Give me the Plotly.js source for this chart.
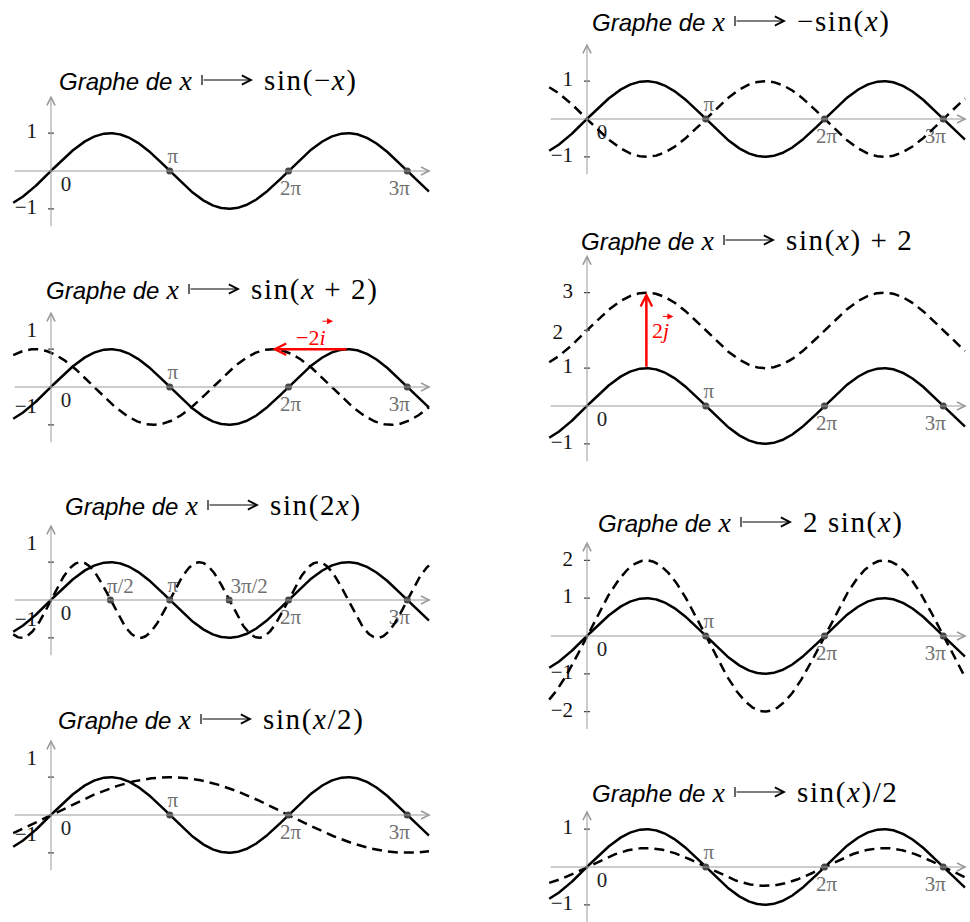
<!DOCTYPE html>
<html>
<head>
<meta charset="utf-8">
<script src="https://cdn.plot.ly/plotly-3.0.1.min.js"></script>
<style>
  html, body { margin: 0; padding: 0; background: #fff; }
  #chart { width: 970px; height: 922px; }
</style>
</head>
<body>
<div id="chart"></div>
<script>
const PI = Math.PI;

// ---- data -------------------------------------------------------------
// Eight panels: left column top to bottom, then right column top to bottom.
const panelFunction = [
  'sin(−<i>x</i>)', 'sin(<i>x</i> + 2)', 'sin(2<i>x</i>)', 'sin(<i>x</i>/2)',
  '−sin(<i>x</i>)', 'sin(<i>x</i>) + 2', '2 sin(<i>x</i>)', 'sin(<i>x</i>)/2'
];
// dashed curve of each panel: amp * sin(freq * x + phase) + lift (none in the first panel)
const dashAmp   = [null, 1, 1, 1,   -1, 1, 2, 0.5];
const dashFreq  = [null, 1, 2, 0.5,  1, 1, 1, 1];
const dashPhase = [null, 2, 0, 0,    0, 0, 0, 0];
const dashLift  = [null, 0, 0, 0,    0, 2, 0, 0];
// plotted interval of x
const xStart = -1, xEnd = 10;
// extent of the vertical axis in each panel
const yAxisLow  = [-1.5, -1.5, -1.5, -1.5, -1.5, -1.5, -2.5, -1.5];
const yAxisHigh = [2, 2, 2, 2, 2, 4, 2.5, 1.5];
// graduations on the vertical axis
const yTicks = [
  [1, -1], [1, -1], [1, -1], [1, -1],
  [1, -1], [3, 2, 1, -1], [2, 1, -2, -1], [1, -1]
];
// marked points on the horizontal axis
const markValues = [
  [PI, 2 * PI, 3 * PI], [PI, 2 * PI, 3 * PI],
  [PI / 2, PI, 3 * PI / 2, 2 * PI, 3 * PI], [PI, 2 * PI, 3 * PI],
  [PI, 2 * PI, 3 * PI], [PI, 2 * PI, 3 * PI], [PI, 2 * PI, 3 * PI], [PI, 2 * PI, 3 * PI]
];
const markLabels = [
  ['π', '2π', '3π'], ['π', '2π', '3π'],
  ['π/2', 'π', '3π/2', '2π', '3π'], ['π', '2π', '3π'],
  ['π', '2π', '3π'], ['π', '2π', '3π'], ['π', '2π', '3π'], ['π', '2π', '3π']
];
// translation vectors: panel, start point, end point, label
const vecPanel = [1, 5];
const vecFromX = [5 * PI / 2, PI / 2];
const vecFromY = [1, 1];
const vecToX   = [5 * PI / 2 - 2, PI / 2];
const vecToY   = [1, 3];
const vecLabel = ['−2<i>i</i>', '2<i>j</i>'];

// ---- geometry ---------------------------------------------------------
const W = 970, H = 922;
const unit = 37.8;                       // px per unit, same on both axes
const origin = [[51, 171], [51, 387], [51, 600], [51, 815],
                [587, 119], [587, 406], [587, 636], [587, 867]];
// title: left edge and vertical middle (px)
const titleLeft = [61, 48, 67, 60, 594, 583, 600, 594];
const titleMid  = [80, 289, 505, 719, 21, 240, 522, 792];
const yLabelShift = [0, -17, -17, -17, 0, 0, 0, 0];
// pixel offsets of the horizontal-axis labels relative to their point
const labelOffset = {
  '0': [15, 15], 'π': [3, -13], '2π': [2, 19], '3π': [-8, 19],
  'π/2': [10, -12], '3π/2': [20, -12]
};
// placement of the vector labels and of their arrow accents (px)
const vecLabelShift = [[1, 12], [4, 0]];
const vecAccentTip = [[23, 28], [27, 14]];

const serif = "'Liberation Serif', 'DejaVu Serif', serif";
const sans = "'Liberation Sans', 'DejaVu Sans', sans-serif";
const axisGrey = '#9a9a9a';
const labelGrey = '#707070';

const xs = [];
for (let k = 0; k <= 550; k++) xs.push(xStart + (xEnd - xStart) * k / 550);

const traces = [];
const annotations = [];
const shapes = [];
const layout = {
  width: W, height: H,
  margin: { l: 0, r: 0, t: 0, b: 0 },
  paper_bgcolor: '#fff', plot_bgcolor: 'rgba(0,0,0,0)',
  showlegend: false, hovermode: false
};

// "Graphe de x ⟼ f(x)": text, maps-to arrow drawn as a line with a bar, then the function
function addTitle(i) {
  const left = titleLeft[i];
  const yp = 1 - titleMid[i] / H;
  annotations.push({
    xref: 'paper', yref: 'paper', x: (left + 133) / W, y: yp,
    xanchor: 'right', yanchor: 'middle', showarrow: false,
    text: '<span style="font-family:' + sans + ';font-size:24px"><i>Graphe de</i></span> <i>x</i>',
    font: { family: serif, size: 28, color: '#000' }
  });
  annotations.push({
    xref: 'paper', yref: 'paper', axref: 'paper', ayref: 'paper',
    x: (left + 192) / W, y: yp, ax: (left + 141) / W, ay: yp,
    text: '', showarrow: true, arrowhead: 5, arrowsize: 1.5, arrowwidth: 1.2, arrowcolor: '#000'
  });
  shapes.push({
    type: 'line', xref: 'paper', yref: 'paper',
    x0: (left + 141) / W, x1: (left + 141) / W,
    y0: 1 - (titleMid[i] - 5) / H, y1: 1 - (titleMid[i] + 5) / H,
    line: { color: '#000', width: 1.2 }
  });
  annotations.push({
    xref: 'paper', yref: 'paper', x: (left + 201) / W, y: yp,
    xanchor: 'left', yanchor: 'middle', showarrow: false,
    text: '<span style="letter-spacing:1.6px">' + panelFunction[i] + '</span>',
    font: { family: serif, size: 29, color: '#000' }
  });
}

for (let i = 0; i < 8; i++) {
  const n = i === 0 ? '' : String(i + 1);
  const xa = 'x' + n, ya = 'y' + n;
  const [ox, oy] = origin[i];

  const xr = [-1.1, 10.1];
  const yLo = Math.max(yAxisLow[i] - 0.1, -(H - oy) / unit);
  const yHi = Math.min(yAxisHigh[i] + 0.1, oy / unit);
  const hidden = {
    showgrid: false, zeroline: false, showline: false, showticklabels: false,
    ticks: '', fixedrange: true
  };
  layout['xaxis' + n] = Object.assign({}, hidden, {
    range: xr, anchor: ya,
    domain: [(ox + xr[0] * unit) / W, (ox + xr[1] * unit) / W]
  });
  layout['yaxis' + n] = Object.assign({}, hidden, {
    range: [yLo, yHi], anchor: xa,
    domain: [Math.max(0, 1 - (oy - yLo * unit) / H), Math.min(1, 1 - (oy - yHi * unit) / H)]
  });

  // labels first so the curves pass over them
  const lx = [], ly = [], lt = [], lc = [], lp = [];
  const zero = labelOffset['0'];
  lx.push(zero[0] / unit); ly.push(-zero[1] / unit); lt.push('0'); lc.push('#222'); lp.push('middle center');
  markValues[i].forEach((v, k) => {
    const off = labelOffset[markLabels[i][k]];
    lx.push(v + off[0] / unit); ly.push(-off[1] / unit);
    lt.push(markLabels[i][k]); lc.push(labelGrey); lp.push('middle center');
  });
  yTicks[i].forEach(v => {
    let dx = -14, dy = yLabelShift[i];
    if (i === 5 && v === 2) { dx = -24; dy = 3; }
    lx.push(dx / unit); ly.push(v - dy / unit);
    lt.push(v < 0 ? '−' + (-v) : String(v)); lc.push('#111'); lp.push('middle left');
  });
  traces.push({
    type: 'scatter', mode: 'text', xaxis: xa, yaxis: ya,
    x: lx, y: ly, text: lt, textposition: lp, cliponaxis: false,
    textfont: { family: serif, size: 21, color: lc }
  });

  // reference curve y = sin(x)
  traces.push({
    type: 'scatter', mode: 'lines', xaxis: xa, yaxis: ya,
    x: xs, y: xs.map(x => Math.sin(x)),
    line: { color: '#000', width: 2.5 }
  });

  // transformed curve
  if (dashAmp[i] !== null) {
    traces.push({
      type: 'scatter', mode: 'lines', xaxis: xa, yaxis: ya,
      x: xs, y: xs.map(x => dashAmp[i] * Math.sin(dashFreq[i] * x + dashPhase[i]) + dashLift[i]),
      line: { color: '#000', width: 2.5, dash: '10px,6px' }
    });
  }

  // marked points
  traces.push({
    type: 'scatter', mode: 'markers', xaxis: xa, yaxis: ya,
    x: markValues[i], y: markValues[i].map(() => 0),
    marker: { color: '#454545', size: 7, line: { width: 0 } }
  });

  // axes with open arrow heads
  annotations.push({
    xref: xa, yref: ya, axref: xa, ayref: ya,
    x: xEnd + 0.05, y: 0, ax: xStart, ay: 0,
    text: '', showarrow: true, arrowhead: 5, arrowsize: 1.6, arrowwidth: 1, arrowcolor: axisGrey
  });
  annotations.push({
    xref: xa, yref: ya, axref: xa, ayref: ya,
    x: 0, y: yAxisHigh[i], ax: 0, ay: yAxisLow[i],
    text: '', showarrow: true, arrowhead: 5, arrowsize: 1.6, arrowwidth: 1, arrowcolor: axisGrey
  });

  // graduation marks
  yTicks[i].forEach(v => {
    shapes.push({
      type: 'line', xref: xa, yref: ya,
      x0: -3 / unit, x1: 3 / unit, y0: v, y1: v,
      line: { color: '#444', width: 1.2 }
    });
  });

  addTitle(i);
}

// translation vectors
vecPanel.forEach((p, k) => {
  const n = p === 0 ? '' : String(p + 1);
  const xa = 'x' + n, ya = 'y' + n;
  annotations.push({
    xref: xa, yref: ya, axref: xa, ayref: ya,
    x: vecToX[k], y: vecToY[k], ax: vecFromX[k], ay: vecFromY[k],
    text: '', showarrow: true, arrowhead: 5, arrowsize: 0.9, arrowwidth: 2.5, arrowcolor: '#ff0000'
  });
  const horizontal = vecFromY[k] === vecToY[k];
  const mx = (vecFromX[k] + vecToX[k]) / 2;
  const my = horizontal ? vecFromY[k] : (vecFromY[k] + vecToY[k]) / 2;
  annotations.push({
    xref: xa, yref: ya, x: mx, y: my,
    xanchor: horizontal ? 'center' : 'left', yanchor: 'middle',
    xshift: vecLabelShift[k][0], yshift: vecLabelShift[k][1],
    showarrow: false, text: vecLabel[k],
    font: { family: serif, size: 22, color: '#ff0000' }
  });
  // small arrow accent over the unit vector letter
  annotations.push({
    xref: xa, yref: ya, x: mx, y: my,
    xshift: vecAccentTip[k][0], yshift: vecAccentTip[k][1],
    ax: -12, ay: 0, text: '', showarrow: true,
    arrowhead: 2, arrowsize: 1.2, arrowwidth: 1, arrowcolor: '#ff0000'
  });
});

layout.annotations = annotations;
layout.shapes = shapes;

Plotly.newPlot('chart', traces, layout, { staticPlot: true, displayModeBar: false });
</script>
</body>
</html>
